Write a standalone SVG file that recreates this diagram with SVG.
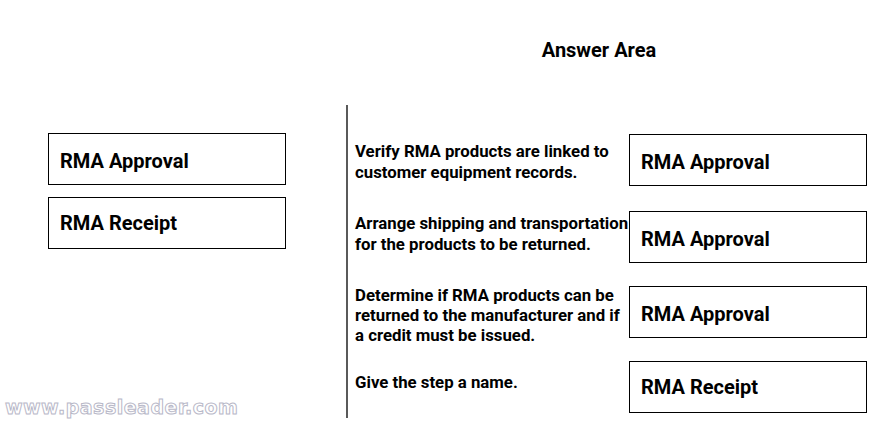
<svg xmlns="http://www.w3.org/2000/svg" width="870" height="425" viewBox="0 0 870 425">
<style>
.box{fill:#fff;stroke:#000;stroke-width:1}
.lbl{font-family:Roboto,"Liberation Sans",sans-serif;font-size:20px;font-weight:700;fill:#000}
.txt{font-family:Roboto,"Liberation Sans",sans-serif;font-size:16.8px;font-weight:700;fill:#000}
</style>
<rect width="870" height="425" fill="#fff"/>
<text x="599" y="57" text-anchor="middle" class="txt" style="font-size:20px">Answer Area</text>
<g id="src1"><rect class="box" x="48.5" y="133.5" width="237" height="51"/><text class="lbl" x="60" y="168">RMA Approval</text></g>
<g id="src2"><rect class="box" x="48.5" y="197.5" width="237" height="51"/><text class="lbl" x="60" y="230">RMA Receipt</text></g>
<g id="connectors"><line x1="347" y1="105" x2="347" y2="418" stroke="#000" stroke-width="1.3"/></g>
<g id="q1"><text class="txt" x="355" y="157">Verify RMA products are linked to</text><text class="txt" x="355" y="178">customer equipment records.</text></g>
<g id="q2"><text class="txt" x="355" y="229">Arrange shipping and transportation</text><text class="txt" x="355" y="250">for the products to be returned.</text><rect x="628" y="205" width="12" height="40" fill="#fff"/></g>
<g id="q3"><text class="txt" x="355" y="301">Determine if RMA products can be</text><text class="txt" x="355" y="321">returned to the manufacturer and if</text><text class="txt" x="355" y="341">a credit must be issued.</text></g>
<g id="q4"><text class="txt" x="355" y="388">Give the step a name.</text></g>
<g id="a1"><rect class="box" x="629.5" y="134.5" width="237" height="51"/><text class="lbl" x="641" y="169">RMA Approval</text></g>
<g id="a2"><rect class="box" x="629.5" y="211.5" width="237" height="51"/><text class="lbl" x="641" y="246">RMA Approval</text></g>
<g id="a3"><rect class="box" x="629.5" y="286.5" width="237" height="51"/><text class="lbl" x="641" y="321">RMA Approval</text></g>
<g id="a4"><rect class="box" x="629.5" y="361.5" width="237" height="51"/><text class="lbl" x="641" y="394">RMA Receipt</text></g>
<text x="5" y="414" font-family="'DejaVu Sans',sans-serif" font-size="19" font-weight="bold" fill="#fff" stroke="#b8b8c8" stroke-width="1" letter-spacing="0.5">www.passleader.com</text>
</svg>
